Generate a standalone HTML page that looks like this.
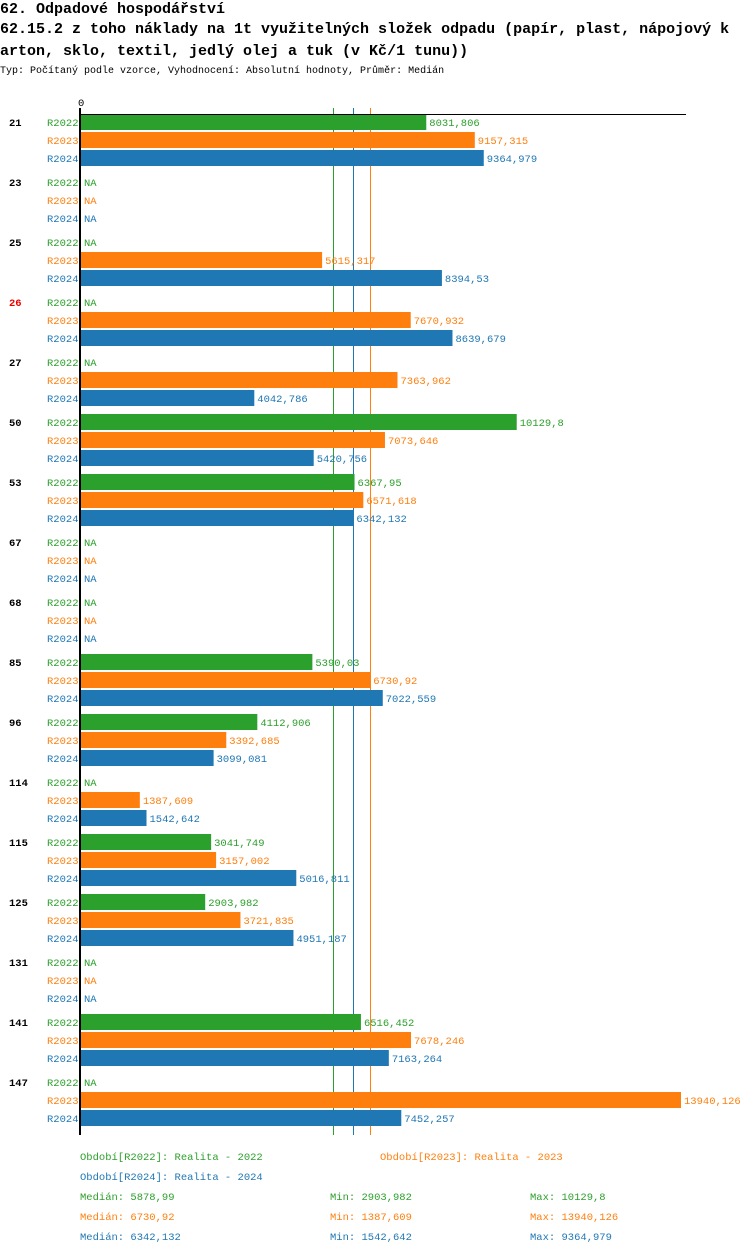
<!DOCTYPE html>
<html><head><meta charset="utf-8">
<style>
body{margin:0;background:#fff;width:750px;height:1254px;overflow:hidden;font-family:"Liberation Mono",monospace;}
.t{position:absolute;left:0;font-weight:bold;font-size:15px;color:#000;white-space:nowrap;}
svg{position:absolute;left:0;top:0;}
svg text{font-family:"Liberation Mono",monospace;font-size:10.5px;}
</style></head><body>
<div class="t" style="top:1px">62. Odpadové hospodářství</div>
<div class="t" style="top:21px">62.15.2 z toho náklady na 1t využitelných složek odpadu (papír, plast, nápojový k</div>
<div class="t" style="top:43px">arton, sklo, textil, jedlý olej a tuk (v Kč/1 tunu))</div>
<div style="position:absolute;left:0;top:66px;font-size:10px;white-space:nowrap">Typ: Počítaný podle vzorce, Vyhodnocení: Absolutní hodnoty, Průměr: Medián</div>
<svg id="c" width="750" height="1254"></svg>
<script>
const categories=["21","23","25","26","27","50","53","67","68","85","96","114","115","125","131","141","147"];
const series=["R2022","R2023","R2024"];
const v2022=[8031.806,null,null,null,null,10129.8,6367.95,null,null,5390.03,4112.906,null,3041.749,2903.982,null,6516.452,null];
const v2023=[9157.315,null,5615.317,7670.932,7363.962,7073.646,6571.618,null,null,6730.92,3392.685,1387.609,3157.002,3721.835,null,7678.246,13940.126];
const v2024=[9364.979,null,8394.53,8639.679,4042.786,5420.756,6342.132,null,null,7022.559,3099.081,1542.642,5016.811,4951.187,null,7163.264,7452.257];
const medians=[5878.99,6730.92,6342.132];
const mins=[2903.982,1387.609,1542.642];
const maxs=[10129.8,13940.126,9364.979];
const colors=["#2ca02c","#ff7f0e","#1f77b4"];
const highlight="26";
const vals=[v2022,v2023,v2024];
const x0=80,xMax=13940.126,xPx=601;
const X=v=>x0+v/xMax*xPx;
const groupY=i=>114+i*60, barY=(i,s)=>groupY(i)+s*18;
const svg=document.getElementById('c');
const NS="http://www.w3.org/2000/svg";
function mk(t,a,txt){const e=document.createElementNS(NS,t);for(const k in a)e.setAttribute(k,a[k]);if(txt!=null)e.textContent=txt;svg.appendChild(e);return e;}
const fmt=v=>String(v).replace('.',',');
const bottom=groupY(categories.length-1)+60-1+2;
let zl=mk('text',{x:x0-2,y:106,fill:'#000'},'0');


medians.forEach((m,k)=>{
  const mx=Math.round(X(m))+0.5;
  let ln=mk('line',{x1:mx,x2:mx,y1:108,y2:bottom,stroke:colors[k],'stroke-width':1});
  
  
});
categories.forEach((c,i)=>{
  let t=mk('text',{x:9,y:groupY(i)+12,fill:c===highlight?'#e00':'#000','font-weight':'bold'},c);
  
  
  series.forEach((s,k)=>{
    const y=barY(i,k);
    let l=mk('text',{x:47,y:y+12,fill:colors[k]},s);
    
    
    const v=vals[k][i];
    if(v==null){
      let n=mk('text',{x:x0+4,y:y+12,fill:colors[k]},'NA');
      
      
    }else{
      let r=mk('rect',{x:x0,y:y,width:X(v)-x0,height:16,fill:colors[k]});
      
      
      let n=mk('text',{x:X(v)+3,y:y+12,fill:colors[k]},fmt(v));
      
      
    }
  });
});
let topLine=mk('line',{x1:x0,x2:686,y1:114.5,y2:114.5,stroke:'#000','stroke-width':1});


let ax=mk('line',{x1:x0,x2:x0,y1:108,y2:bottom,stroke:'#000','stroke-width':2});


const legendText=["Období[R2022]: Realita - 2022","Období[R2023]: Realita - 2023","Období[R2024]: Realita - 2024"];
const legPos=[[80,1160],[380,1160],[80,1180]];
legendText.forEach((t,k)=>{
  let l=mk('text',{x:legPos[k][0],y:legPos[k][1],fill:colors[k]},t);
  
  
});
series.forEach((s,k)=>{
  const y=1200+k*20;
  let a=mk('text',{x:80,y:y,fill:colors[k]},'Medián: '+fmt(medians[k]));
  
  
  let b=mk('text',{x:330,y:y,fill:colors[k]},'Min: '+fmt(mins[k]));
  
  
  let d=mk('text',{x:530,y:y,fill:colors[k]},'Max: '+fmt(maxs[k]));
  
  
});
</script>
</body></html>
